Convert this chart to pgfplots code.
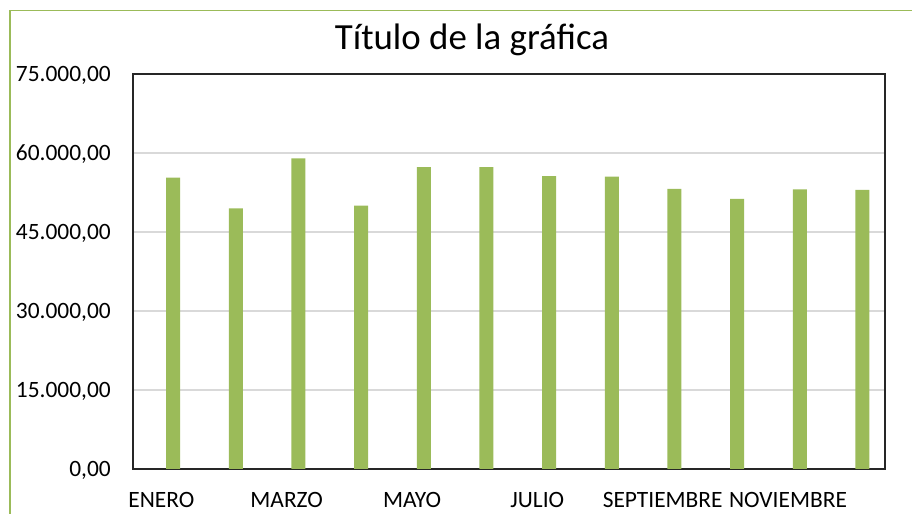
\documentclass[border=0pt]{standalone}
\usepackage{fontspec}
\setmainfont{Carlito}
\usepackage{pgfplots}
\pgfplotsset{compat=1.18}
\definecolor{barg}{HTML}{9BBB59}
\definecolor{gridc}{HTML}{D9D9D9}
\definecolor{axc}{HTML}{262626}
\begin{document}
\begin{tikzpicture}[x=1bp,y=1bp]
\path[use as bounding box] (0,0) rectangle (912,514);
\draw[barg, line width=1.5bp] (10,0) -- (10,503.5) -- (912,503.5);
\node[font=\fontsize{37}{42}\selectfont, text=black, anchor=base, inner sep=0pt] at (472,464.7) {Título de la gráfica};
\begin{axis}[at={(133bp,45bp)}, anchor=south west, scale only axis,
  width=752bp, height=395bp,
  ymin=0, ymax=75000, ytick={0,15000,30000,45000,60000,75000},
  xmin=-0.5, xmax=11.5,
  xtick={0,2,4,6,8,10},
  xticklabels={ENERO,MARZO,MAYO,JULIO,SEPTIEMBRE,NOVIEMBRE},
  major tick length=0pt,
  ymajorgrids, grid style={gridc, line width=1.5bp},
  axis line style={axc, line width=1.5bp},
  scaled ticks=false,
  /pgf/number format/assume math mode=true,
  yticklabel={\pgfmathprintnumber[fixed, fixed zerofill, precision=2, use comma, 1000 sep={.}]{\tick}},
  tick label style={font=\fontsize{23.5}{28}\selectfont, text=black, inner sep=0pt},
  yticklabel style={anchor=base east, xshift=-22bp, yshift=-7.5bp},
  xticklabel style={anchor=base, xshift=-3bp, yshift=-39bp},
  ybar, bar width=14bp, bar shift=8.8bp,
]
\addplot[fill=barg, draw=none] coordinates {
(0,55300) (1,49500) (2,59000) (3,50000) (4,57300) (5,57300)
(6,55600) (7,55500) (8,53200) (9,51300) (10,53100) (11,53000)};
\end{axis}
\end{tikzpicture}
\end{document}
